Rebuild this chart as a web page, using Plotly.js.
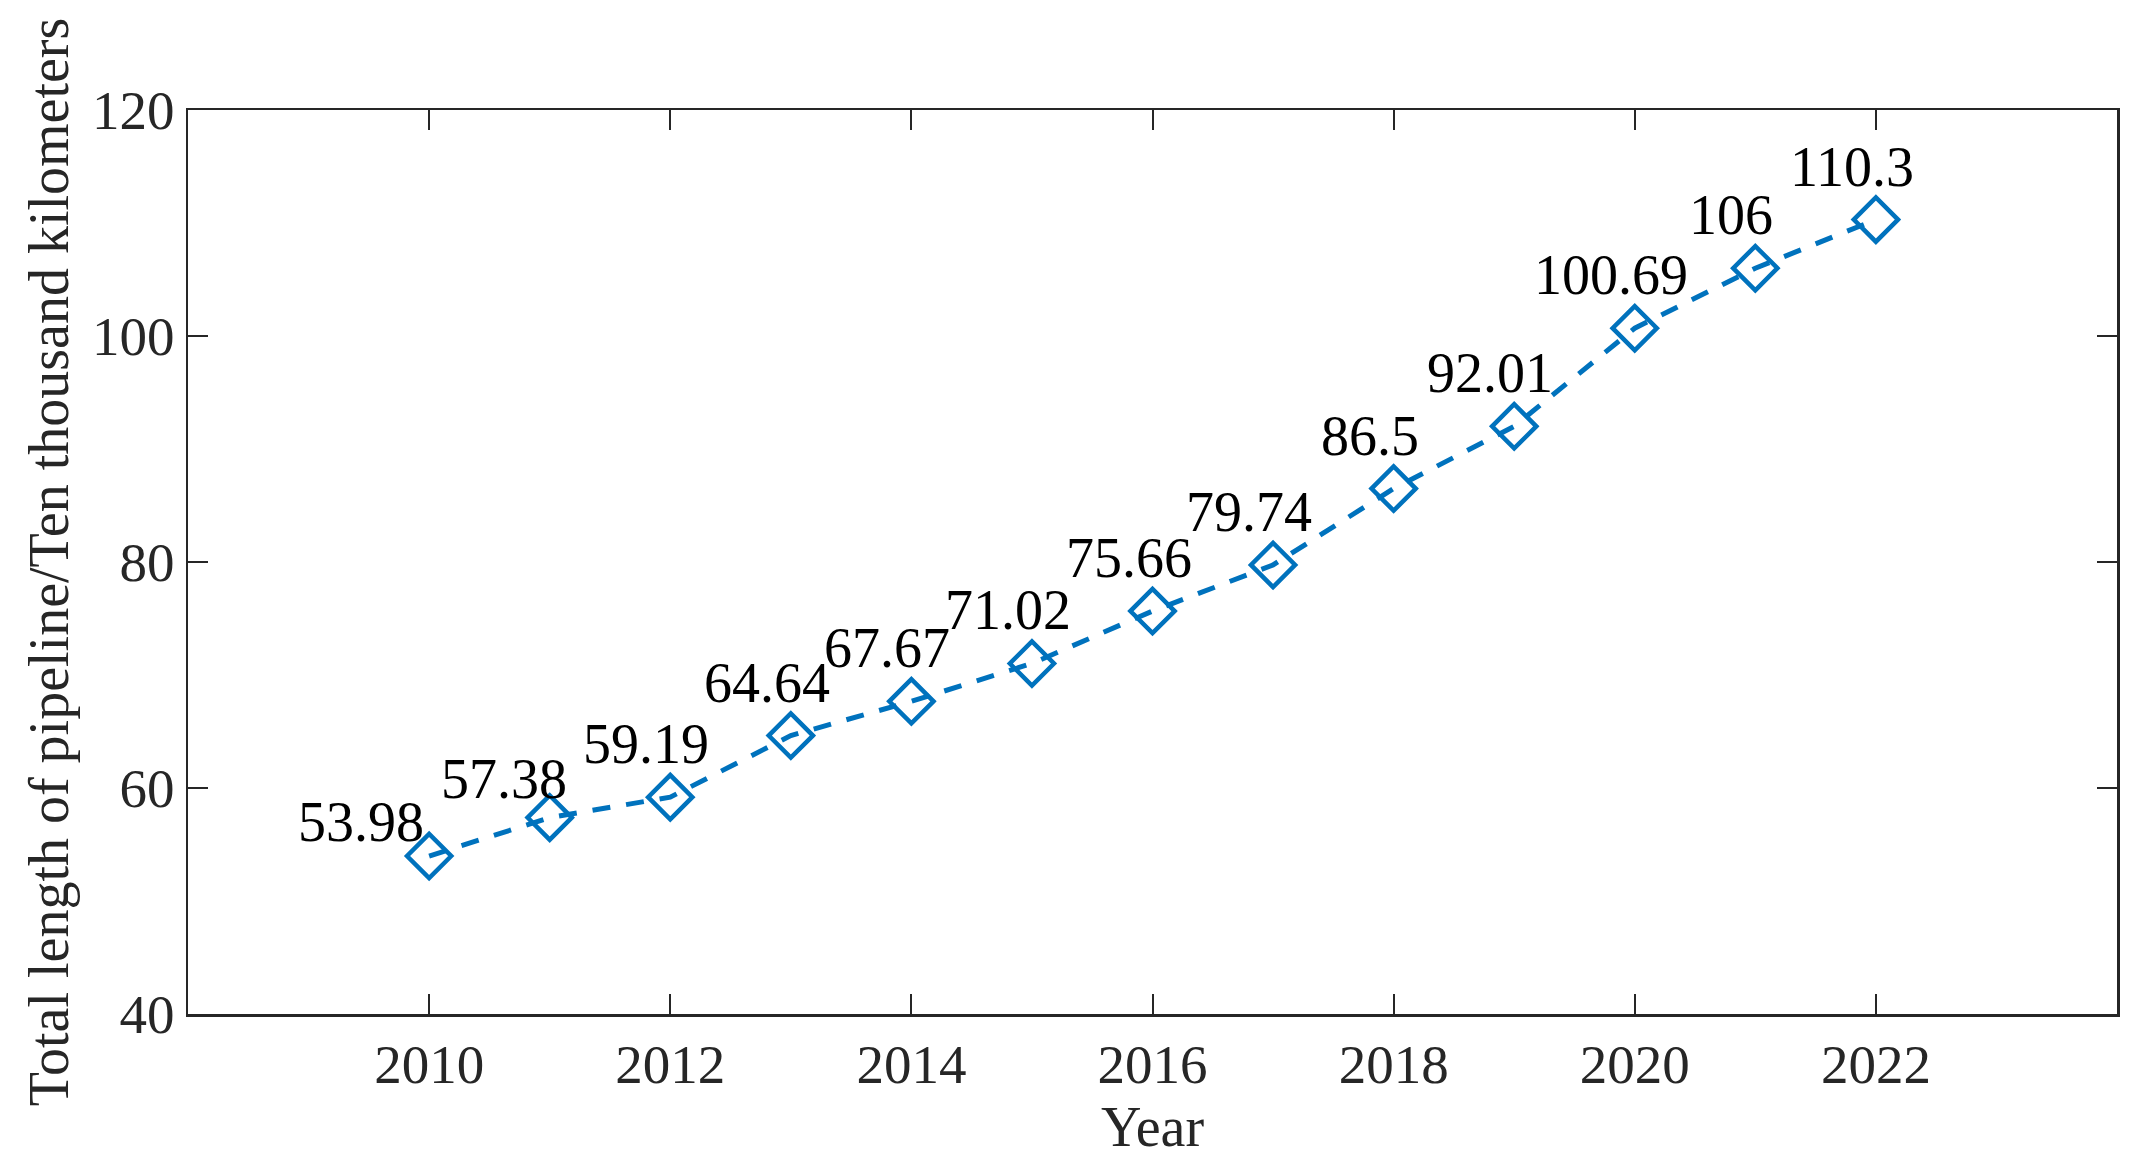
<!DOCTYPE html>
<html>
<head>
<meta charset="utf-8">
<script src="https://cdn.plot.ly/plotly-3.0.1.min.js"></script>
<style>html,body{margin:0;padding:0;background:#fff;}#chart{width:2151px;height:1164px;}</style>
</head>
<body>
<div id="chart"></div>
<script>
const years = [2010, 2011, 2012, 2013, 2014, 2015, 2016, 2017, 2018, 2019, 2020, 2021, 2022];
const lengths = [53.98, 57.38, 59.19, 64.64, 67.67, 71.02, 75.66, 79.74, 86.5, 92.01, 100.69, 106, 110.3];
const labels = ['53.98', '57.38', '59.19', '64.64', '67.67', '71.02', '75.66', '79.74', '86.5', '92.01', '100.69', '106', '110.3'];
const xTicks = [2010, 2012, 2014, 2016, 2018, 2020, 2022];
const yTicks = [40, 60, 80, 100, 120];

const FONT = 'Liberation Serif, Times New Roman, serif';
const AX = '#262626';

const annotations = years.map((yr, i) => {
  let xs = -24, ys = 53;
  if (i === 0) { xs = -68; ys = 34; }
  else if (i === 1) { xs = -46; ys = 39; }
  return {
    x: yr, y: lengths[i], xref: 'x', yref: 'y',
    text: labels[i], showarrow: false,
    xanchor: 'center', yanchor: 'middle',
    xshift: xs, yshift: ys,
    font: {family: FONT, size: 56, color: '#000'}
  };
});

const trace = {
  x: years, y: lengths, type: 'scatter', mode: 'lines+markers',
  line: {color: '#0072BD', width: 5, dash: '18px,16px'},
  marker: {symbol: 'diamond-open', size: 34, color: '#0072BD', line: {width: 4.5, color: '#0072BD'}},
  hoverinfo: 'x+y'
};

const layout = {
  width: 2151, height: 1164,
  margin: {l: 188, r: 34, t: 110, b: 150},
  paper_bgcolor: '#fff', plot_bgcolor: '#fff',
  showlegend: false,
  font: {family: FONT, size: 55, color: AX},
  xaxis: {
    range: [2008, 2024], tickvals: xTicks, ticktext: xTicks.map(String),
    ticks: 'inside', ticklen: 20, tickwidth: 2, tickcolor: AX,
    showline: true, linecolor: AX, linewidth: 2.5, mirror: 'ticks',
    showgrid: false, zeroline: false,
    tickfont: {family: FONT, size: 55, color: AX},
    title: {text: 'Year', font: {family: FONT, size: 56, color: AX}, standoff: 14}
  },
  yaxis: {
    range: [40, 120], tickvals: yTicks, ticktext: yTicks.map(String),
    ticks: 'inside', ticklen: 20, tickwidth: 2, tickcolor: AX,
    showline: true, linecolor: AX, linewidth: 2.5, mirror: 'ticks',
    showgrid: false, zeroline: false,
    tickfont: {family: FONT, size: 55, color: AX},
    title: {text: 'Total length of pipeline/Ten thousand kilometers', font: {family: FONT, size: 56, color: AX}, standoff: 6}
  },
  annotations: annotations
};

Plotly.newPlot('chart', [trace], layout, {displayModeBar: false, staticPlot: true});
</script>
</body>
</html>
